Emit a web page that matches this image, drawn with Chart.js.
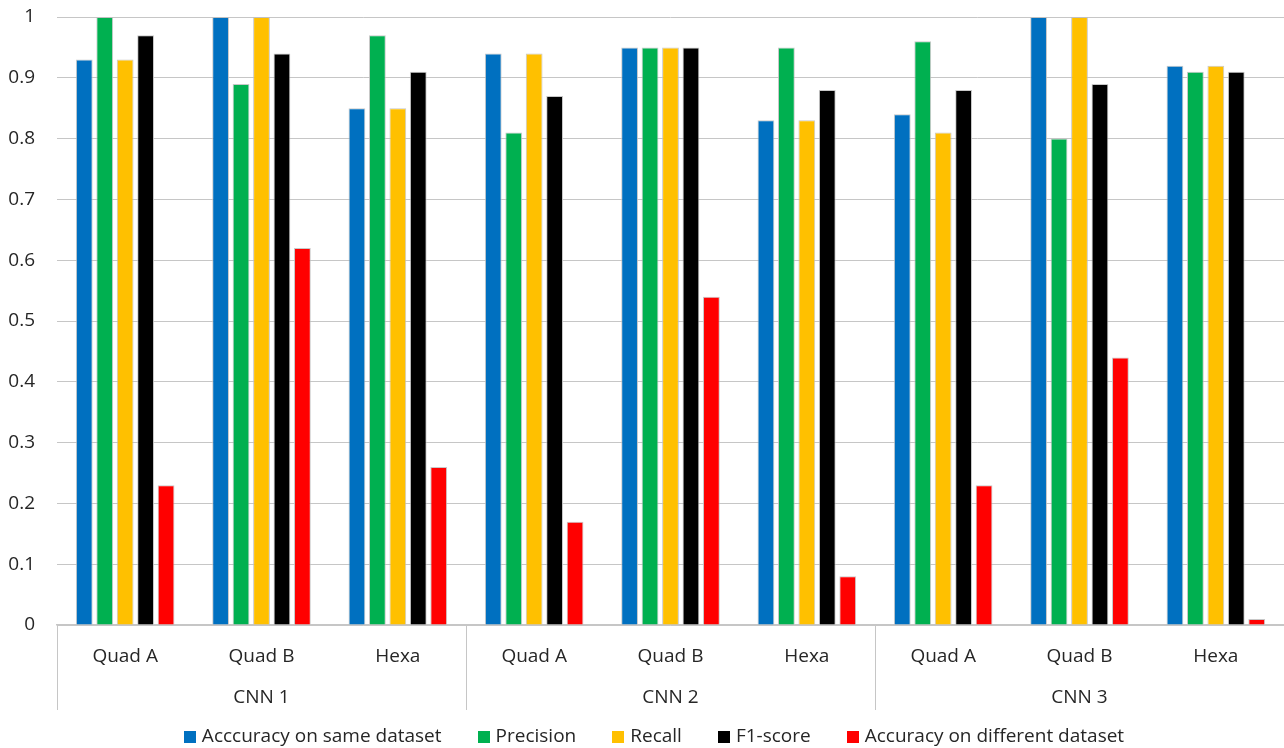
<!DOCTYPE html>
<html>
<head>
<meta charset="utf-8">
<script src="https://cdn.jsdelivr.net/npm/chart.js@4.4.1/dist/chart.umd.min.js"></script>
<style>
  html, body { margin: 0; padding: 0; background: #ffffff; }
  canvas { display: block; }
</style>
</head>
<body>
<canvas id="chart" width="1284" height="748"></canvas>
<script>
// Model variants, grouped by network
const categories = ['Quad A', 'Quad B', 'Hexa', 'Quad A', 'Quad B', 'Hexa', 'Quad A', 'Quad B', 'Hexa'];
const groups = ['CNN 1', 'CNN 2', 'CNN 3'];
const groupSize = 3;

// Metric values per variant
const accuracySame = [0.93, 1.00, 0.85, 0.94, 0.95, 0.83, 0.84, 1.00, 0.92];
const precision    = [1.00, 0.89, 0.97, 0.81, 0.95, 0.95, 0.96, 0.80, 0.91];
const recall       = [0.93, 1.00, 0.85, 0.94, 0.95, 0.83, 0.81, 1.00, 0.92];
const f1Score      = [0.97, 0.94, 0.91, 0.87, 0.95, 0.88, 0.88, 0.89, 0.91];
const accuracyDiff = [0.23, 0.62, 0.26, 0.17, 0.54, 0.08, 0.23, 0.44, 0.01];

const seriesNames = ['Acccuracy on same dataset', 'Precision', 'Recall', 'F1-score', 'Accuracy on different dataset'];
const seriesColors = ['#0070C0', '#00B050', '#FFC000', '#000000', '#FF0000'];
const seriesValues = [accuracySame, precision, recall, f1Score, accuracyDiff];

const FONT = "'Open Sans', 'DejaVu Sans', sans-serif";
const TEXT_COLOR = '#262626';
const GRID_COLOR = '#c6c6c6';
const FONT_SIZE = 19;

// Group separators, group names and the legend underneath the axis
const groupAxisPlugin = {
  id: 'groupAxis',
  afterDraw(chart) {
    const ctx = chart.ctx;
    const x = chart.scales.x;
    const area = chart.chartArea;
    const step = x.getPixelForValue(1) - x.getPixelForValue(0);
    const sepBottom = 710;

    ctx.save();
    ctx.strokeStyle = GRID_COLOR;
    ctx.lineWidth = 1;
    for (let g = 0; g <= groups.length; g++) {
      const idx = g * groupSize;
      const px = Math.round(x.getPixelForValue(0) - step / 2 + idx * step) + 0.5;
      ctx.beginPath();
      ctx.moveTo(px, area.bottom);
      ctx.lineTo(px, sepBottom);
      ctx.stroke();
    }

    ctx.fillStyle = TEXT_COLOR;
    ctx.font = FONT_SIZE + 'px ' + FONT;
    ctx.textAlign = 'center';
    ctx.textBaseline = 'middle';
    groups.forEach((name, g) => {
      const first = x.getPixelForValue(g * groupSize);
      const last = x.getPixelForValue(g * groupSize + groupSize - 1);
      ctx.fillText(name, (first + last) / 2, 698);
    });

    // legend row
    const box = 12, gapText = 6, gapItem = 36, legendY = 737, legendCenter = 654;
    const widths = chart.data.datasets.map(d => ctx.measureText(d.label).width);
    const total = widths.reduce((s, w) => s + box + gapText + w, 0) + gapItem * (widths.length - 1);
    let cx = legendCenter - total / 2;
    ctx.textAlign = 'left';
    chart.data.datasets.forEach((d, i) => {
      ctx.fillStyle = d.backgroundColor;
      ctx.fillRect(Math.round(cx), legendY - box / 2, box, box);
      ctx.fillStyle = TEXT_COLOR;
      ctx.fillText(d.label, cx + box + gapText, legendY);
      cx += box + gapText + widths[i] + gapItem;
    });
    ctx.restore();
  }
};

new Chart(document.getElementById('chart'), {
  type: 'bar',
  data: {
    labels: categories,
    datasets: seriesNames.map((name, i) => ({
      label: name,
      data: seriesValues[i],
      backgroundColor: seriesColors[i],
      borderColor: 'rgba(190,190,190,0.85)',
      borderWidth: 1,
      categoryPercentage: 0.75,
      barPercentage: 0.82
    }))
  },
  options: {
    responsive: false,
    animation: false,
    devicePixelRatio: 1,
    layout: { padding: { top: 17, right: 0, bottom: 0, left: 0 } },
    plugins: {
      legend: { display: false },
      tooltip: { enabled: false }
    },
    scales: {
      y: {
        min: 0,
        max: 1,
        afterFit(scale) {
          scale.width = 57;
          scale.paddingTop = 0;
          scale.paddingBottom = 0;
        },
        border: { display: false },
        grid: { color: GRID_COLOR, lineWidth: 1, drawTicks: false },
        ticks: {
          stepSize: 0.1,
          padding: 22,
          color: TEXT_COLOR,
          font: { family: FONT, size: FONT_SIZE },
          callback: v => String(Number(v.toFixed(1)))
        }
      },
      x: {
        afterFit(scale) {
          scale.height = 123;
          scale.paddingLeft = 0;
          scale.paddingRight = 0;
        },
        border: { display: true, color: GRID_COLOR, width: 1.5 },
        grid: { display: false },
        ticks: {
          padding: 12,
          color: TEXT_COLOR,
          maxRotation: 0,
          autoSkip: false,
          font: { family: FONT, size: FONT_SIZE }
        }
      }
    }
  },
  plugins: [groupAxisPlugin]
});
</script>
</body>
</html>
